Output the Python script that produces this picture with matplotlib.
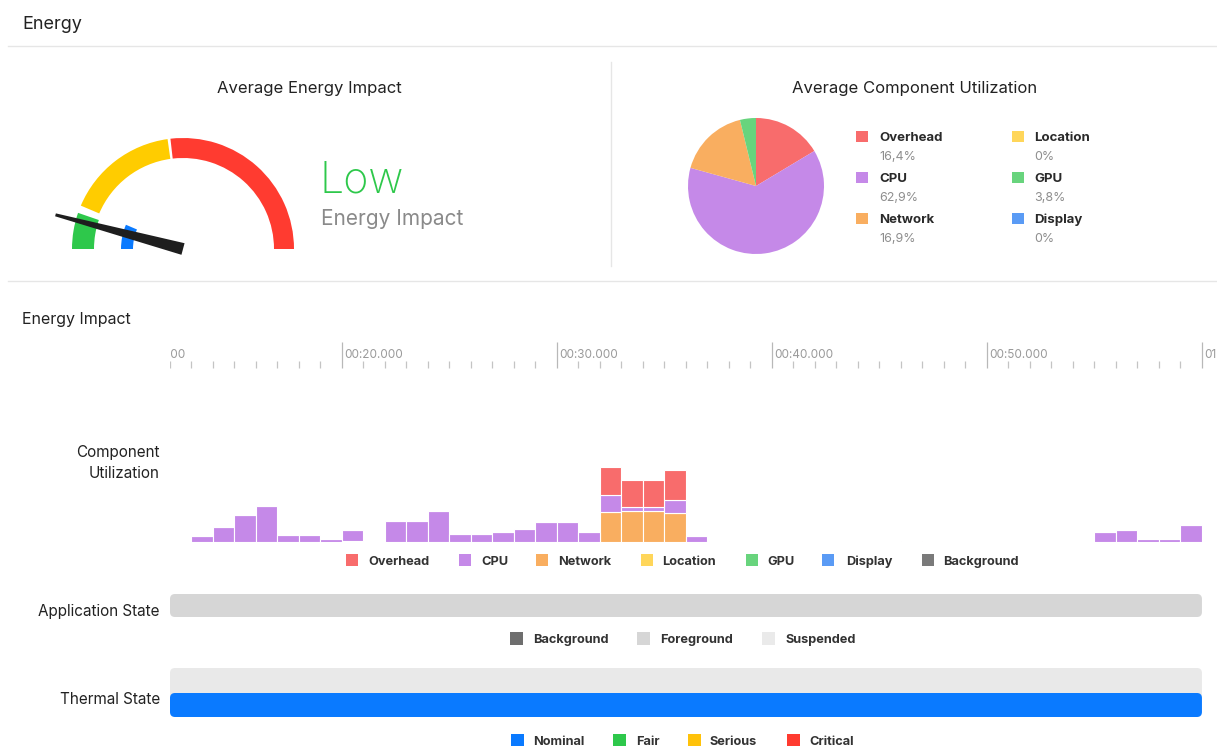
import matplotlib
matplotlib.use("Agg")
import matplotlib.pyplot as plt
from matplotlib.patches import Wedge, Rectangle, Polygon, FancyBboxPatch
import numpy as np

plt.rcParams['font.family'] = ['Inter', 'DejaVu Sans']

# ---------------- data ----------------
pie_labels = ["Overhead", "CPU", "Network", "Location", "GPU", "Display"]
pie_values = [16.4, 62.9, 16.9, 0.0, 3.8, 0.0]
pie_texts = ["16,4%", "62,9%", "16,9%", "0%", "3,8%", "0%"]
comp_colors = {"Overhead": "#F86C6C", "CPU": "#C589E8", "Network": "#F9AE60",
               "Location": "#FFD65A", "GPU": "#68D47D", "Display": "#5A9BF5",
               "Background": "#7A7A7A"}

# gauge zones: (start angle, end angle, inner radius, outer radius, colour)
gauge_zones = [(0, 96.5, 91, 111, "#FF3B30"),
               (98, 157, 91, 111, "#FFCC00"),
               (161, 180, 89, 111, "#2EC84B"),
               (157, 180, 50, 62, "#0A7AFF")]
needle_angle = 165.0
impact_label = "Low"

# component utilization per second (time in s)
bar_times = [13, 14, 15, 16, 17, 18, 19, 20, 21, 22, 23, 24, 25, 26, 27, 28, 29, 30,
             31, 32, 33, 34, 35, 36, 37, 46, 55, 56, 57, 58, 59]
cpu_vals = [6, 15, 27, 36, 7, 7, 3, 11, 1, 21, 21, 31, 8, 8, 10, 13, 20, 20,
            10, 17, 4, 4, 13, 6, 1, 1, 10, 12.5, 3, 3, 17]
gpu_vals = [0, 0, 0, 0, 0, 0, 0, 1, 0, 0, 0, 0, 0, 0, 0, 0, 0, 0,
            0, 0, 0, 0, 0, 0, 0, 0, 0, 0, 0, 0, 0]
network_vals = [0, 0, 0, 0, 0, 0, 0, 0, 0, 0, 0, 0, 0, 0, 0, 0, 0, 0,
                0, 30, 31, 31, 29, 0, 0, 0, 0, 0, 0, 0, 0]
overhead_vals = [0, 0, 0, 0, 0, 0, 0, 0, 0, 0, 0, 0, 0, 0, 0, 0, 0, 0,
                 0, 28, 27, 27, 30, 0, 0, 0, 0, 0, 0, 0, 0]

major_ticks = [10, 20, 30, 40, 50, 60]
major_labels = ["00:10.000", "00:20.000", "00:30.000", "00:40.000", "00:50.000", "01:00.000"]
minor_ticks = list(range(11, 62))
view_start, view_end = 12.0, 60.7

app_states = [("Foreground", 12.0, 60.0)]
thermal_states = [("Nominal", 12.0, 60.0)]

bar_legend = ["Overhead", "CPU", "Network", "Location", "GPU", "Display", "Background"]
app_legend = ["Background", "Foreground", "Suspended"]
app_colors = {"Background": "#6E6E6E", "Foreground": "#D6D6D6", "Suspended": "#EAEAEA"}
thermal_legend = ["Nominal", "Fair", "Serious", "Critical"]
thermal_colors = {"Nominal": "#0A7AFF", "Fair": "#2EC84B", "Serious": "#FFC20A", "Critical": "#FF3B30"}

# ---------------- figure ----------------
W, H = 1217, 746
fig = plt.figure(figsize=(W / 100, H / 100), dpi=100)


def px_axes(x0, y0, x1, y1):
    return fig.add_axes([x0 / W, 1 - y1 / H, (x1 - x0) / W, (y1 - y0) / H])


bg = px_axes(0, 0, W, H)
bg.set_xlim(0, W)
bg.set_ylim(H, 0)
bg.axis("off")

DY = 1.8  # text centring offset (px)


def txt(x, y, s, **kw):
    kw.setdefault("va", "center")
    return bg.text(x, y + DY, s, **kw)


sep = "#E6E6E6"
bg.plot([8, W], [46, 46], color=sep, lw=1)
bg.plot([8, W], [281, 281], color=sep, lw=1)
bg.plot([611, 611], [62, 266], color=sep, lw=1)

dark = "#222222"
txt(22, 23, "Energy", fontsize=13, color=dark, ha="left")
txt(309, 87, "Average Energy Impact", fontsize=12, color=dark, ha="center")
txt(915, 87, "Average Component Utilization", fontsize=12, color=dark, ha="center")
txt(22, 318, "Energy Impact", fontsize=11.5, color=dark, ha="left")
txt(160, 461, "Component\nUtilization", fontsize=11, color=dark, ha="right",
    multialignment="right", linespacing=1.45)
txt(160, 610, "Application State", fontsize=11, color=dark, ha="right")
txt(160, 698, "Thermal State", fontsize=11, color=dark, ha="right")

# gauge
gx = px_axes(40, 120, 310, 270)
cx, cy = 183, 249
gx.set_xlim(40 - cx, 310 - cx)
gx.set_ylim(cy - 270, cy - 120)
gx.set_aspect("equal")
gx.axis("off")
for a0, a1, r0, r1, col in gauge_zones:
    gx.add_patch(Wedge((0, 0), r1, a0, a1, width=r1 - r0, color=col, lw=0))
th = np.deg2rad(needle_angle)
d = np.array([np.cos(th), np.sin(th)])
p = np.array([-d[1], d[0]])
L = 132
tip = d * L
pts = [tip + p * 1.5, tip - p * 1.5, -p * 6.0, p * 6.0]
gx.add_patch(Polygon(pts, closed=True, color="#1E1E1E", lw=0))

txt(320, 179, impact_label, fontsize=31, color="#2EC84B", ha="left", fontweight="light")
txt(321, 217, "Energy Impact", fontsize=15, color="#8A8A8A", ha="left")

# pie
px = px_axes(688, 118, 824, 254)
vals = [v for v in pie_values if v > 0]
cols = [comp_colors[l] for l, v in zip(pie_labels, pie_values) if v > 0]
px.pie(vals, colors=cols, startangle=90, counterclock=False, radius=1.0,
       wedgeprops=dict(linewidth=0))
px.set_xlim(-1, 1)
px.set_ylim(-1, 1)
px.set_aspect("equal")

# pie legend
col_x = [(856, 879), (1012, 1034)]
row_y = [136, 177, 218]
for i, (lab, ptxt) in enumerate(zip(pie_labels, pie_texts)):
    c = i // 3
    r = i % 3
    sx, tx = col_x[c]
    y = row_y[r]
    bg.add_patch(Rectangle((sx, y - 5.5), 11.5, 11.5, color=comp_colors[lab], lw=0))
    txt(tx, y, lab, fontsize=9.5, fontweight="bold", color="#2A2A2A", ha="left")
    txt(tx, y + 19.5, ptxt, fontsize=9, color="#8E8E8E", ha="left")

# timeline axis
tx_ax = px_axes(170, 338, W, 372)
tx_ax.set_xlim(view_start, view_end)
tx_ax.set_ylim(372, 338)
tx_ax.axis("off")
tx_ax.vlines([t for t in minor_ticks if t not in major_ticks], 361, 368, color="#C4C4C4", lw=0.9)
tx_ax.vlines(major_ticks, 342, 368, color="#B8B8B8", lw=0.9)
for t, lab in zip(major_ticks, major_labels):
    tx_ax.text(t + 0.12, 354.5, lab, fontsize=8.5, color="#9A9A9A", va="center", ha="left",
               clip_on=True)

# bars
bx = px_axes(170, 440, W, 542)
bx.set_xlim(view_start, view_end)
bx.set_ylim(0, 102)
bx.axis("off")
bottom = np.zeros(len(bar_times))
for name, vals_ in [("GPU", gpu_vals), ("Network", network_vals), ("CPU", cpu_vals),
                    ("Overhead", overhead_vals)]:
    v = np.array(vals_, dtype=float)
    bx.bar(bar_times, v, width=1.0, bottom=bottom, align="edge", color=comp_colors[name],
           edgecolor="white", linewidth=0.8)
    bottom += v

# bar legend
leg_sq = [346, 459, 536, 641, 746, 822, 922]
leg_tx = [368, 481, 558, 662, 767, 846, 943]
for lab, sx, tx in zip(bar_legend, leg_sq, leg_tx):
    bg.add_patch(Rectangle((sx, 560 - 6), 12, 12, color=comp_colors[lab], lw=0))
    txt(tx, 560, lab, fontsize=9.2, fontweight="bold", color="#333333", ha="left")

# state lanes
sx_ax = px_axes(170, 585, W, 725)
sx_ax.set_xlim(view_start, view_end)
sx_ax.set_ylim(725, 585)
sx_ax.axis("off")
pps = (W - 170) / (view_end - view_start)
rs = 5 / pps


def lane(t0, t1, y0, y1, color):
    sx_ax.add_patch(FancyBboxPatch((t0, y0), t1 - t0, y1 - y0,
                                   boxstyle=f"round,pad=0,rounding_size={rs}",
                                   mutation_aspect=pps, color=color, lw=0))


for st, t0, t1 in app_states:
    lane(t0, t1, 594, 617, app_colors[st])
lane(view_start, 60.0, 668, 700, "#E9E9E9")
for st, t0, t1 in thermal_states:
    lane(t0, t1, 693, 717, thermal_colors[st])

for lab, sx, tx in zip(app_legend, [510, 637, 762], [533, 660, 785]):
    bg.add_patch(Rectangle((sx, 638 - 6), 12.5, 12.5, color=app_colors[lab], lw=0))
    txt(tx, 638, lab, fontsize=9.2, fontweight="bold", color="#333333", ha="left")
for lab, sx, tx in zip(thermal_legend, [511, 613, 688, 787], [533, 636, 710, 809]):
    bg.add_patch(Rectangle((sx, 740 - 6), 12.5, 12.5, color=thermal_colors[lab], lw=0))
    txt(tx, 740, lab, fontsize=9.2, fontweight="bold", color="#333333", ha="left")

fig.savefig("out.png", dpi=100, facecolor="white")
